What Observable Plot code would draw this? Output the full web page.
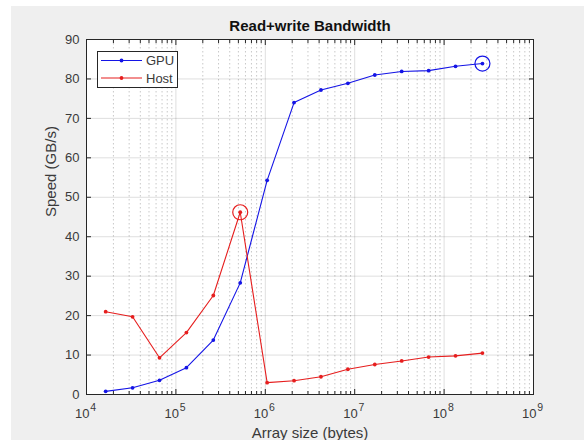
<!DOCTYPE html>
<html>
<head>
<meta charset="utf-8">
<script src="https://cdn.jsdelivr.net/npm/d3@7"></script>
<script src="https://cdn.jsdelivr.net/npm/@observablehq/plot@0.6"></script>
<style>
  html, body { margin: 0; padding: 0; background: #ffffff; }
  #wrap { position: absolute; left: 11px; top: 6px; width: 573px; height: 434px; background: #efefef; }
  #legend { position: absolute; left: 86px; top: 45px; }
  text { font-family: "Liberation Sans", Arial, sans-serif; }
</style>
</head>
<body>
<div id="wrap"><div id="chart"></div><div id="legend"></div></div>
<script>
// ---- data ----
const title = "Read+write Bandwidth";
const xLabel = "Array size (bytes)";
const yLabel = "Speed (GB/s)";
const seriesNames = ["GPU", "Host"];
const seriesColors = ["#1414e6", "#e61e1e"];
const sizes = [16384, 32768, 65536, 131072, 262144, 524288, 1048576, 2097152,
  4194304, 8388608, 16777216, 33554432, 67108864, 134217728, 268435456];
const gpu = [0.8, 1.7, 3.6, 6.8, 13.8, 28.3, 54.3, 74.0, 77.2, 78.9, 81.0, 81.9, 82.1, 83.2, 83.9];
const host = [21.0, 19.7, 9.3, 15.7, 25.1, 46.2, 3.0, 3.5, 4.5, 6.4, 7.6, 8.5, 9.5, 9.8, 10.5];
const xDecades = [1e4, 1e5, 1e6, 1e7, 1e8, 1e9];
const xExponents = ["4", "5", "6", "7", "8", "9"];
const xMinor = [];
for (const d of [1e4, 1e5, 1e6, 1e7, 1e8]) for (const m of [2,3,4,5,6,7,8,9]) xMinor.push(d * m);
const yTicks = [0, 10, 20, 30, 40, 50, 60, 70, 80, 90];

// ---- table ----
const rows = [];
sizes.forEach((s, i) => {
  rows.push({series: seriesNames[0], size: s, speed: gpu[i]});
  rows.push({series: seriesNames[1], size: s, speed: host[i]});
});
// highlighted points: maximum of each series
const highlights = seriesNames.map(n => {
  const r = rows.filter(d => d.series === n);
  return r.reduce((a, b) => (b.speed > a.speed ? b : a));
});
const decadeRows = xDecades.map((d, i) => ({x: d, e: xExponents[i]}));

const ink = "#262626";
const txt = "#3a3a3a";

const chart = Plot.plot({
  width: 573,
  height: 434,
  marginLeft: 75,
  marginRight: 51,
  marginTop: 33,
  marginBottom: 46,
  style: {background: "transparent", fontFamily: "'Liberation Sans', Arial, sans-serif"},
  x: {type: "log", domain: [1e4, 1e9], axis: null},
  y: {domain: [0, 90], axis: null},
  color: {domain: seriesNames, range: seriesColors},
  marks: [
    Plot.frame({fill: "white", stroke: null}),
    Plot.gridX(xMinor, {stroke: "#000", strokeOpacity: 0.22, strokeDasharray: "1.5,2.5"}),
    Plot.gridX(xDecades, {stroke: "#000", strokeOpacity: 0.13}),
    Plot.gridY(yTicks, {stroke: "#000", strokeOpacity: 0.13}),
    // inward ticks
    Plot.axisX(xDecades, {anchor: "bottom", tickSize: -5, tickFormat: () => "", label: null, stroke: ink}),
    Plot.axisX(xDecades, {anchor: "top", tickSize: -5, tickFormat: () => "", label: null, stroke: ink}),
    Plot.axisX(xMinor, {anchor: "bottom", tickSize: -3, tickFormat: () => "", label: null, stroke: ink}),
    Plot.axisX(xMinor, {anchor: "top", tickSize: -3, tickFormat: () => "", label: null, stroke: ink}),
    Plot.axisY(yTicks, {anchor: "left", tickSize: -5, tickFormat: () => "", label: null, stroke: ink}),
    Plot.axisY(yTicks, {anchor: "right", tickSize: -5, tickFormat: () => "", label: null, stroke: ink}),
    // data
    Plot.line(rows, {x: "size", y: "speed", z: "series", stroke: "series", strokeWidth: 1.1}),
    Plot.dot(rows, {x: "size", y: "speed", fill: "series", r: 1.9}),
    Plot.dot(highlights, {x: "size", y: "speed", stroke: "series", fill: "none", r: 7.5, strokeWidth: 1.2}),
    Plot.frame({stroke: ink, strokeWidth: 1}),
    // tick labels
    Plot.text(yTicks, {y: d => d, text: d => String(d), frameAnchor: "left", textAnchor: "end", dx: -7, fontSize: 13, fill: txt}),
    Plot.text(decadeRows, {x: "x", text: () => "10", frameAnchor: "bottom", lineAnchor: "middle", textAnchor: "end", dx: 3, dy: 19, fontSize: 13, fill: txt}),
    Plot.text(decadeRows, {x: "x", text: "e", frameAnchor: "bottom", lineAnchor: "middle", textAnchor: "start", dx: 3.8, dy: 13.5, fontSize: 10.5, fill: txt}),
    // labels & title
    Plot.text([xLabel], {text: d => d, frameAnchor: "bottom", lineAnchor: "middle", dy: 39, fontSize: 15, fill: txt}),
    Plot.text([yLabel], {text: d => d, frameAnchor: "left", lineAnchor: "middle", rotate: -90, dx: -35.5, fontSize: 15, fill: txt}),
    Plot.text([title], {text: d => d, frameAnchor: "top", lineAnchor: "middle", dy: -13, fontSize: 15, fontWeight: "bold", fill: "#111"})
  ]
});
document.getElementById("chart").appendChild(chart);

// ---- legend (line + marker samples) ----
const lg = d3.select("#legend").append("svg").attr("width", 82).attr("height", 38)
  .style("font-family", "'Liberation Sans', Arial, sans-serif");
lg.append("rect").attr("x", 0.5).attr("y", 0.5).attr("width", 80).attr("height", 36)
  .attr("fill", "white").attr("stroke", ink);
seriesNames.forEach((n, i) => {
  const y = 9.5 + i * 17.5;
  lg.append("line").attr("x1", 4).attr("x2", 45).attr("y1", y).attr("y2", y)
    .attr("stroke", seriesColors[i]).attr("stroke-width", 1.1);
  lg.append("circle").attr("cx", 24.5).attr("cy", y).attr("r", 1.9).attr("fill", seriesColors[i]);
  lg.append("text").attr("x", 49).attr("y", y).attr("dy", "0.35em")
    .attr("font-size", 13).attr("fill", txt).text(n);
});
</script>
</body>
</html>
